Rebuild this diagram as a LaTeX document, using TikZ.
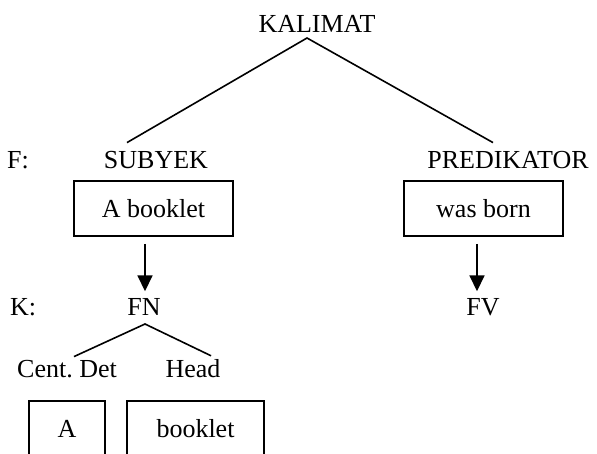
\documentclass[tikz,border=0pt]{standalone}
\usepackage{fontspec}
\setmainfont{Liberation Serif}
\usepackage{tikz}
\usetikzlibrary{arrows.meta}

\tikzset{
    lbl/.style={inner sep=0pt, anchor=base},
    wordbox/.style={draw, rectangle, line width=1.5pt, inner sep=0pt, minimum height=55pt},
    branch/.style={line width=1.6pt},
    arr/.style={-{Triangle[width=15pt,length=16pt]}, line width=1.8pt}
}

\begin{document}
\begin{tikzpicture}[x=1pt, y=-1pt, font=\fontsize{26}{31}\selectfont]
    \useasboundingbox (0,0) rectangle (597,453);
    \clip (0,0) rectangle (597,453);

    % Sentence
    \node[lbl] (kalimat) at (317,32) {KALIMAT};

    % Functions
    \node[lbl, anchor=base west] (flabel) at (7,168) {F:};
    \node[lbl] (subyek) at (156,168) {SUBYEK};
    \node[lbl] (predikator) at (508,168) {PREDIKATOR};

    \coordinate (top) at ([xshift=-10pt,yshift=-6pt]kalimat.base);
    \coordinate (subyek-end) at ([xshift=-29pt,yshift=8pt]subyek.north);
    \coordinate (predikator-end) at ([xshift=-15pt,yshift=8pt]predikator.north);
    \draw[branch] (subyek-end) -- (top) -- (predikator-end);

    % Words filling the functions
    \node[wordbox, minimum width=159pt] (booklet) at (153.5,208.5) {A booklet};
    \node[wordbox, minimum width=159pt] (wasborn) at (483.5,208.5) {was born};

    % Categories
    \node[lbl, anchor=base west] (klabel) at (10,315) {K:};
    \node[lbl] (fn) at (144,315) {FN};
    \node[lbl] (fv) at (483,315) {FV};

    \coordinate (fn-in) at ([xshift=1pt]fn.north);
    \coordinate (fv-in) at ([xshift=-6pt]fv.north);
    \draw[arr, shorten <=7pt, shorten >=6.5pt] (booklet.south -| fn-in) -- (fn-in);
    \draw[arr, shorten <=7pt, shorten >=6.5pt] (wasborn.south -| fv-in) -- (fv-in);

    % Inside the noun phrase
    \node[lbl] (centdet) at (67,377) {Cent.\ Det};
    \node[lbl] (head) at (193,377) {Head};

    \coordinate (fn-top) at ([xshift=1pt,yshift=-9pt]fn.base);
    \coordinate (centdet-end) at ([xshift=7pt,yshift=3pt]centdet.north);
    \coordinate (head-end) at ([xshift=18pt,yshift=3pt]head.north);
    \draw[branch] (centdet-end) -- (fn-top) -- (head-end);

    \node[wordbox, minimum width=76pt] (a) at (67,428.5) {A};
    \node[wordbox, minimum width=137pt] (bookletword) at (195.5,428.5) {booklet};
\end{tikzpicture}
\end{document}
